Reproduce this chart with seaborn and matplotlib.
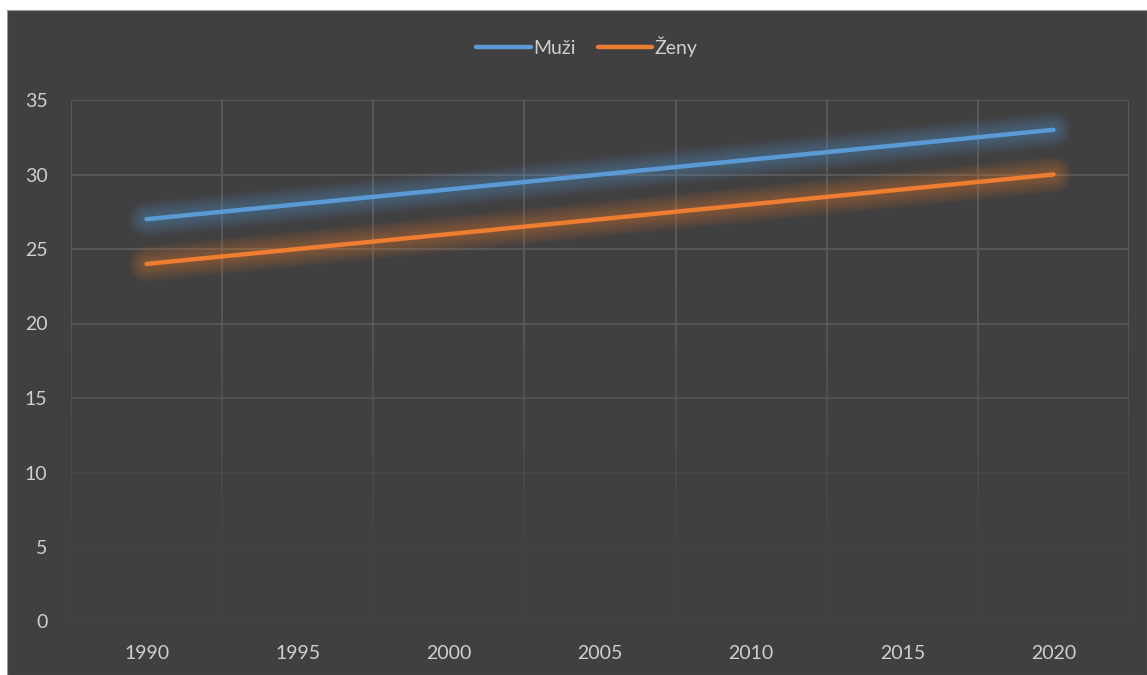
import numpy as np
import pandas as pd
import seaborn as sns
import matplotlib.pyplot as plt
import matplotlib.patches as mpatches
from matplotlib.collections import LineCollection

years = ["1990", "1995", "2000", "2005", "2010", "2015", "2020"]
muzi = [27, 28, 29, 30, 31, 32, 33]
zeny = [24, 25, 26, 27, 28, 29, 30]
series_names = ["Muži", "Ženy"]
colors = ["#5b9bd5", "#ed7d31"]
yticks = [0, 5, 10, 15, 20, 25, 30, 35]

W, H = 1147, 675
bg = "#404040"
txt = "#cfcfcf"
grid_col = "#5e5e5e"

sns.set_theme(style="dark")
plt.rcParams["font.family"] = ["Lato", "DejaVu Sans"]

fig = plt.figure(figsize=(W / 100, H / 100), dpi=100, facecolor="white")
fig.patches.append(mpatches.Rectangle((7 / W, 0), 1 - 7 / W, 1 - 10 / H,
                                      transform=fig.transFigure,
                                      facecolor=bg, edgecolor="#9a9a9a",
                                      linewidth=0.8, zorder=-5))

left, right, top, bottom = 71, 1129, 100, 621.5
ax = fig.add_axes([left / W, (H - bottom) / H, (right - left) / W, (bottom - top) / H])
ax.set_facecolor(bg)

x = np.arange(len(years))
df = pd.DataFrame({
    "x": np.concatenate([x, x]),
    "value": muzi + zeny,
    "series": [series_names[0]] * len(x) + [series_names[1]] * len(x),
})

# soft glow behind lines
for vals, c in zip([muzi, zeny], colors):
    for lw in np.linspace(26, 6, 10):
        ax.plot(x, vals, color=c, lw=lw, alpha=0.045, solid_capstyle="round", zorder=2)

sns.lineplot(data=df, x="x", y="value", hue="series", palette=colors,
             linewidth=3.2, ax=ax, legend=False, zorder=3)
for line in ax.lines:
    line.set_solid_capstyle("round")

ax.set_xlim(-0.5, len(years) - 0.5)
ax.set_ylim(0, 35)

# grid fades out toward the bottom
for yv in yticks:
    a = np.clip((yv - 3) / 20, 0.05, 1.0)
    ax.axhline(yv, color=grid_col, lw=1.2, alpha=a, zorder=1)
ys = np.linspace(0, 35, 60)
for xv in np.arange(-0.5, len(years), 1.0):
    segs = [[(xv, ys[i]), (xv, ys[i + 1])] for i in range(len(ys) - 1)]
    alphas = np.clip((ys[:-1] - 3) / 20, 0.05, 1.0)
    cols = [(0.37, 0.37, 0.37, a) for a in alphas]
    ax.add_collection(LineCollection(segs, colors=cols, linewidths=1.2, zorder=1))

ax.set_xticks(x)
ax.set_xticklabels(years)
ax.set_yticks(yticks)
ax.tick_params(axis="both", length=0, colors=txt, labelsize=14)
ax.tick_params(axis="y", pad=17)
ax.tick_params(axis="x", pad=17)
ax.set_xlabel("")
ax.set_ylabel("")
ax.grid(False)
for s in ax.spines.values():
    s.set_visible(False)

handles = [plt.Line2D([], [], color=c, lw=3.2, solid_capstyle="round") for c in colors]
leg = fig.legend(handles, series_names, loc="center", bbox_to_anchor=(587 / W, 1 - 47 / H),
                 ncol=2, frameon=False, fontsize=14, handlelength=2.8,
                 handletextpad=0.15, columnspacing=1.1, labelcolor=txt)

fig.savefig("out.png", dpi=100, facecolor="white")
